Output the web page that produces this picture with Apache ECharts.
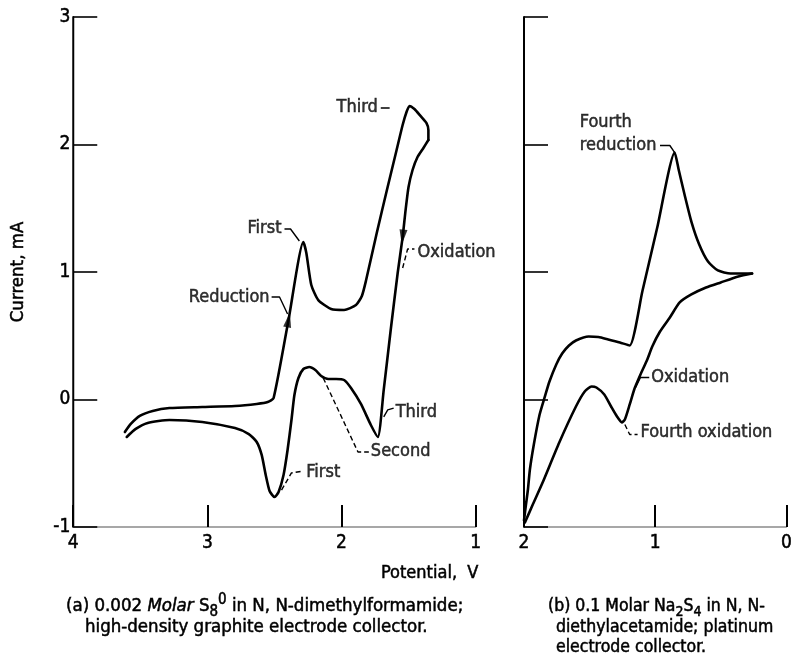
<!DOCTYPE html>
<html>
<head>
<meta charset="utf-8">
<script src="https://cdn.jsdelivr.net/npm/echarts@6/dist/echarts.min.js"></script>
<style>
  html, body { margin: 0; padding: 0; background: #fff; }
  #chart { width: 795px; height: 656px; }
</style>
</head>
<body>
<div id="chart"></div>
<script>
// Cyclic voltammograms, [potential V, current mA]

// (a) 0.002 M S8 in DMF on graphite: cathodic sweep from 3.6 V to the turn near 1.35 V
const s8Cathodic = [
  [3.615, -0.255], [3.571, -0.192], [3.504, -0.129], [3.408, -0.090], [3.283, -0.067],
  [3.038, -0.059], [2.794, -0.051], [2.632, -0.035], [2.550, -0.020], [2.506, 0.012],
  [2.395, 0.624], [2.284, 1.235], [2.262, 1.149], [2.225, 0.898], [2.173, 0.780],
  [2.077, 0.710], [1.981, 0.702], [1.892, 0.741], [1.848, 0.812], [1.818, 0.929],
  [1.737, 1.306], [1.663, 1.635], [1.589, 1.957], [1.544, 2.153], [1.515, 2.255],
  [1.493, 2.302], [1.456, 2.278], [1.411, 2.224], [1.367, 2.169], [1.352, 2.114],
  [1.352, 2.035]
];
// (a) anodic return sweep back to 3.6 V
const s8Anodic = [
  [1.352, 2.035], [1.389, 1.973], [1.433, 1.902], [1.470, 1.800], [1.500, 1.667],
  [1.522, 1.486], [1.544, 1.274], [1.581, 0.992], [1.633, 0.545], [1.685, 0.075],
  [1.729, -0.294], [1.781, -0.200], [1.855, -0.035], [1.929, 0.090], [1.981, 0.153],
  [2.040, 0.161], [2.099, 0.161], [2.151, 0.184], [2.195, 0.231], [2.240, 0.255],
  [2.284, 0.239], [2.321, 0.169], [2.351, 0.035], [2.373, -0.161], [2.402, -0.396],
  [2.432, -0.592], [2.469, -0.725], [2.499, -0.765], [2.536, -0.718], [2.565, -0.592],
  [2.595, -0.435], [2.632, -0.333], [2.691, -0.271], [2.794, -0.224], [3.038, -0.176],
  [3.283, -0.161], [3.445, -0.184], [3.534, -0.231], [3.601, -0.294]
];

// (b) 0.1 M Na2S4 in DEA on platinum: cathodic sweep from 2 V to 0.26 V
const na2s4Cathodic = [
  [2.000, -0.949], [1.985, -0.824], [1.970, -0.706], [1.955, -0.549], [1.925, -0.353],
  [1.881, -0.118], [1.843, 0.016], [1.806, 0.141], [1.754, 0.275], [1.709, 0.361],
  [1.657, 0.424], [1.604, 0.463], [1.507, 0.494], [1.433, 0.490], [1.358, 0.471],
  [1.269, 0.447], [1.194, 0.424], [1.097, 0.851], [0.985, 1.345], [0.851, 1.937],
  [0.821, 1.804], [0.776, 1.608], [0.724, 1.396], [0.664, 1.216], [0.597, 1.082],
  [0.522, 1.012], [0.425, 0.988], [0.261, 0.988]
];
// (b) anodic return sweep back to 2 V
const na2s4Anodic = [
  [0.261, 0.988], [0.366, 0.965], [0.500, 0.918], [0.612, 0.878], [0.724, 0.824],
  [0.813, 0.761], [0.888, 0.643], [0.963, 0.533], [1.022, 0.416], [1.060, 0.314],
  [1.112, 0.196], [1.157, 0.086], [1.194, -0.039], [1.231, -0.157], [1.254, -0.180],
  [1.291, -0.133], [1.336, -0.055], [1.388, 0.039], [1.448, 0.094], [1.485, 0.102],
  [1.537, 0.063], [1.604, -0.055], [1.731, -0.337], [1.858, -0.651], [1.933, -0.824],
  [1.993, -0.965]
];

// Axis ranges / ticks
const currentTicks = [-1, 0, 1, 2, 3];
const potentialTicksA = [4, 3, 2, 1];
const potentialTicksB = [2, 1, 0];

// Callouts: text anchor, which side of the anchor the text sits, leader polyline
const notesA = [
  { text: 'Third',     at: [1.729, 2.294],  side: 'left',  leader: [[1.707, 2.286], [1.641, 2.286]] },
  { text: 'First',     at: [2.447, 1.345],  side: 'left',  leader: [[2.425, 1.337], [2.380, 1.337], [2.314, 1.243]] },
  { text: 'Reduction', at: [2.536, 0.804],  side: 'left',  leader: [[2.521, 0.804], [2.462, 0.804], [2.402, 0.671]] },
  { text: 'Oxidation', at: [1.433, 1.157],  side: 'right', leader: [[1.544, 1.031], [1.507, 1.180], [1.456, 1.180]], dashed: true },
  { text: 'Third',     at: [1.596, -0.098], side: 'right', leader: [[1.685, -0.137], [1.655, -0.082], [1.611, -0.067]] },
  { text: 'Second',    at: [1.781, -0.404], side: 'right', leader: [[2.136, 0.169], [1.877, -0.412], [1.796, -0.412]], dashed: true },
  { text: 'First',     at: [2.262, -0.569], side: 'right', leader: [[2.447, -0.710], [2.373, -0.576], [2.284, -0.561]], dashed: true }
];
const notesB = [
  { text: 'Fourth\nreduction', at: [1.575, 2.086], side: 'right', leader: [[0.963, 1.992], [0.888, 1.992], [0.851, 1.937]] },
  { text: 'Oxidation',         at: [1.030, 0.173], side: 'right', leader: [[1.149, 0.094], [1.112, 0.173], [1.045, 0.173]] },
  { text: 'Fourth oxidation',  at: [1.112, -0.259], side: 'right', leader: [[1.231, -0.196], [1.194, -0.275], [1.134, -0.275]], dashed: true }
];

// Sweep-direction arrowheads on panel (a)
const arrowsA = [
  { at: [2.395, 0.624], rotate: -10.5 },
  { at: [1.544, 1.274], rotate: 173.4 }
];

const FONT = '"Liberation Sans Narrow", "DejaVu Sans Condensed", "Roboto Condensed", "Liberation Sans", sans-serif';
const INK = '#000';
const TXT = { color: INK, fontFamily: FONT, textBorderColor: INK, textBorderWidth: 0.5 };

function valueAxisX(grid, ticks) {
  return {
    type: 'value', gridIndex: grid, inverse: true,
    min: Math.min(...ticks), max: Math.max(...ticks), interval: 1,
    axisLine: { show: true, onZero: false, lineStyle: { color: '#8a8a8a', width: 1.5 } },
    axisTick: { show: true, inside: true, length: 22, lineStyle: { color: INK, width: 2 } },
    axisLabel: Object.assign({ fontSize: 19, margin: 7 }, TXT),
    splitLine: { show: false }
  };
}
function valueAxisY(grid, showLabels) {
  return {
    type: 'value', gridIndex: grid,
    min: Math.min(...currentTicks), max: Math.max(...currentTicks), interval: 1,
    axisLine: { show: true, onZero: false, lineStyle: { color: INK, width: 2 } },
    axisTick: { show: true, inside: true, length: 24, lineStyle: { color: INK, width: 1.6 } },
    axisLabel: Object.assign({ show: showLabels, fontSize: 19, margin: 3 }, TXT),
    splitLine: { show: false },
    name: showLabels ? 'Current, mA' : '',
    nameLocation: 'middle', nameGap: 46, nameRotate: 90,
    nameTextStyle: Object.assign({ fontSize: 18.5 }, TXT)
  };
}

function curve(data, idx) {
  return {
    type: 'line', xAxisIndex: idx, yAxisIndex: idx, data: data,
    showSymbol: false, symbol: 'none', smooth: 0.2, silent: true,
    lineStyle: { color: INK, width: 2.6, cap: 'round', join: 'round' }
  };
}

function noteSeries(notes, idx) {
  const out = [];
  notes.forEach(n => {
    out.push({
      type: 'line', xAxisIndex: idx, yAxisIndex: idx, data: n.leader,
      showSymbol: false, symbol: 'none', silent: true,
      lineStyle: { color: INK, width: 1.4, type: n.dashed ? [5, 3] : 'solid' }
    });
    out.push({
      type: 'scatter', xAxisIndex: idx, yAxisIndex: idx, data: [n.at],
      symbolSize: 0, silent: true,
      label: Object.assign({
        show: true, formatter: n.text, position: n.side, distance: 0,
        fontSize: 18, lineHeight: 23,
        align: n.side === 'left' ? 'right' : 'left'
      }, TXT)
    });
  });
  return out;
}

const series = [
  curve(s8Cathodic, 0), curve(s8Anodic, 0),
  curve(na2s4Cathodic, 1), curve(na2s4Anodic, 1),
  ...noteSeries(notesA, 0), ...noteSeries(notesB, 1),
  {
    type: 'scatter', xAxisIndex: 0, yAxisIndex: 0, silent: true,
    symbol: 'triangle', symbolSize: [8, 15],
    data: arrowsA.map(a => ({ value: a.at, symbolRotate: a.rotate })),
    itemStyle: { color: INK }
  }
];

// Caption text: x = left edge, y = vertical centre of the line
function cap(x, y, size, text, rich) {
  return {
    type: 'text', x: x, y: y,
    style: {
      text: text, rich: rich || {}, font: size + 'px ' + FONT,
      fill: INK, stroke: INK, lineWidth: 0.5, verticalAlign: 'middle'
    }
  };
}
function subSup(size) {
  const small = Math.round(size * 0.82);
  return {
    i: { fontStyle: 'italic', fontSize: size, fontFamily: FONT },
    sub: { fontSize: small, fontFamily: FONT, padding: [12, 0, 0, 0] },
    sup: { fontSize: small, fontFamily: FONT, padding: [0, 0, 12, 0] }
  };
}

const chart = echarts.init(document.getElementById('chart'), null, { renderer: 'canvas' });
chart.setOption({
  animation: false,
  backgroundColor: '#fff',
  grid: [
    { left: 70, top: 17, width: 405.6, height: 510 },
    { left: 524, top: 17, width: 268, height: 510 }
  ],
  xAxis: [valueAxisX(0, potentialTicksA), valueAxisX(1, potentialTicksB)],
  yAxis: [valueAxisY(0, true), valueAxisY(1, false)],
  series: series,
  graphic: [
    cap(381, 573, 18, 'Potential,  V'),
    cap(66, 606, 18.5, '(a) 0.002 {i|Molar} S{sub|8}{sup|0} in N, N-dimethylformamide;', subSup(18.5)),
    cap(85, 627, 18.5, 'high-density graphite electrode collector.'),
    cap(548, 606, 17.5, '(b) 0.1 Molar Na{sub|2}S{sub|4} in N, N-', subSup(17.5)),
    cap(556, 627, 17.5, 'diethylacetamide; platinum'),
    cap(556, 647, 17.5, 'electrode collector.')
  ]
});
</script>
</body>
</html>
